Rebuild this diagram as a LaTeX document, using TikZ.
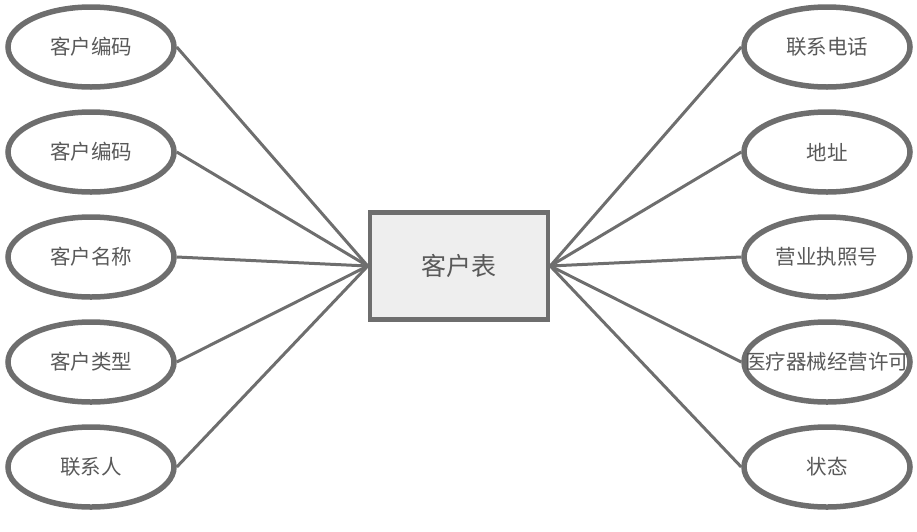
\documentclass[tikz,border=0pt]{standalone}
\usepackage{fontspec}
\newfontfamily\cjk{Noto Sans CJK SC}
\usetikzlibrary{shapes.geometric}
\definecolor{edgegray}{HTML}{6E6E6E}
\definecolor{textgray}{HTML}{595959}
\definecolor{boxfill}{HTML}{EEEEEE}
\tikzset{
  attr/.style={ellipse, draw=edgegray, line width=5.5pt, fill=white,
    minimum width=166pt, minimum height=80pt, inner sep=0pt,
    label={[text=textgray, font=\cjk\fontsize{20.5}{20.5}\selectfont]center:#1}},
  entity/.style={rectangle, draw=edgegray, line width=4.5pt, fill=boxfill,
    minimum width=178pt, minimum height=107pt, text=textgray,
    font=\cjk\fontsize{25}{25}\selectfont}
}
\begin{document}
\begin{tikzpicture}[x=1pt, y=-1pt]
      \useasboundingbox (0,0) rectangle (917,531);
      \draw
        (459,266) node[entity] (e){客户表};
      \draw
        (91,47) node[attr=客户编码] (0){}
        (91,152) node[attr=客户编码] (1){}
        (91,257) node[attr=客户名称] (2){}
        (91,362) node[attr=客户类型] (3){}
        (91,467) node[attr=联系人] (4){}
        (827,47) node[attr=联系电话] (5){}
        (827,152) node[attr=地址] (6){}
        (827,257) node[attr=营业执照号] (7){}
        (827,362) node[attr=医疗器械经营许可] (8){}
        (827,467) node[attr=状态] (9){};
      \begin{scope}[-, draw=edgegray, line width=3pt]
        \draw (0.east) to (e.west);
        \draw (1.east) to (e.west);
        \draw (2.east) to (e.west);
        \draw (3.east) to (e.west);
        \draw (4.east) to (e.west);
        \draw (5.west) to (e.east);
        \draw (6.west) to (e.east);
        \draw (7.west) to (e.east);
        \draw (8.west) to (e.east);
        \draw (9.west) to (e.east);
      \end{scope}
    \end{tikzpicture}
\end{document}
